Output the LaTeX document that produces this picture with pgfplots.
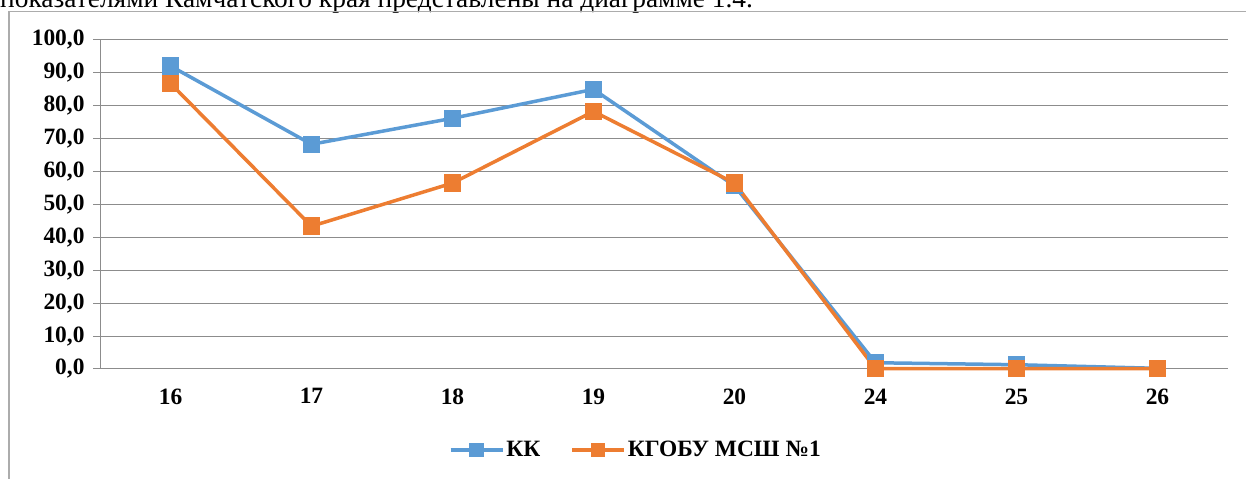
\documentclass[border=0pt]{standalone}
\usepackage{pgfplots}
\pgfplotsset{compat=1.18}
\usepackage{fontspec}
\setmainfont{Liberation Serif}

\definecolor{kkblue}{HTML}{5B9BD5}
\definecolor{kgorange}{HTML}{ED7D31}
\definecolor{gridc}{HTML}{8C8C8C}

\begin{document}
\begin{tikzpicture}[x=1bp,y=1bp]
\useasboundingbox (0,0) rectangle (1246,479);
% cut-off line of text above the chart
\begin{scope}
\clip (0,0) rectangle (1246,479);
\node[anchor=base west, inner sep=0, font=\fontsize{27.5}{32}\selectfont] at (0,471) {показателями Камчатского края представлены на диаграмме 1.4.};
\end{scope}
% chart frame
\draw[gray!65, line width=1.2bp] (9,-5) -- (9,467.5) -- (1252,467.5);

\begin{axis}[
  at={(100bp,110bp)}, anchor=south west,
  scale only axis, width=1128bp, height=329bp,
  xmin=-0.5, xmax=7.5, ymin=0, ymax=100,
  xtick={0,...,7},
  xticklabels={16,17,18,19,20,24,25,26},
  minor xtick={-0.5,0.5,...,7.5},
  xtick style={draw=none},
  minor tick length=7bp,
  major tick length=7bp,
  tick align=outside,
  ytick={0,10,...,100},
  ymajorgrids,
  grid style={gridc, line width=1bp},
  axis x line*=bottom, axis y line*=left,
  axis line style={gridc, line width=1bp, -},
  every tick/.style={gridc, line width=1bp},
  tick label style={font=\fontsize{23.5}{28}\selectfont\bfseries},
  yticklabel style={xshift=-5bp, /pgf/number format/.cd, fixed, fixed zerofill, precision=1, use comma, assume math mode=true},
  xticklabel style={yshift=-9bp},
  legend columns=-1,
  legend style={draw=none, at={(0.475,-0.246)}, anchor=center,
    font=\fontsize{23.5}{28}\selectfont\bfseries,
    /tikz/every even column/.append style={column sep=28bp}},
  legend image code/.code={\draw[mark repeat=2, mark phase=2, #1, mark size=5.5bp] plot coordinates {(0bp,0bp)(26bp,0bp)(52bp,0bp)};},
  clip=false,
]
\addplot[color=kkblue, line width=3.5bp, mark=square*, mark size=7bp, mark options={solid}]
coordinates {(0,92.1)(1,68.3)(2,76.2)(3,85.0)(4,55.7)(5,1.9)(6,1.3)(7,0.2)};
\addplot[color=kgorange, line width=3.5bp, mark=square*, mark size=7bp, mark options={solid}]
coordinates {(0,86.8)(1,43.4)(2,56.5)(3,78.3)(4,56.5)(5,0.1)(6,0.1)(7,0.1)};
\legend{КК, КГОБУ МСШ №1}
\end{axis}
\end{tikzpicture}
\end{document}
